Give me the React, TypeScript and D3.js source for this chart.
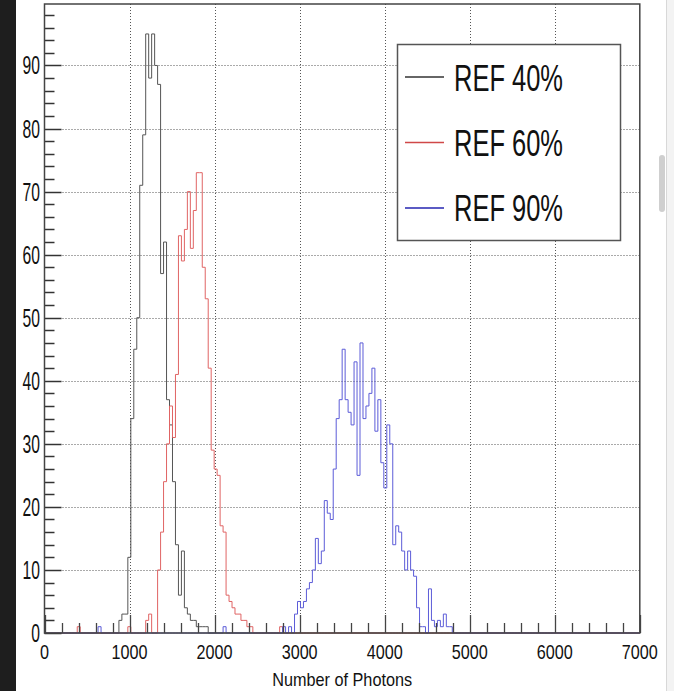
import * as React from 'react'
import * as d3 from 'd3'

// histogram binning: 200 bins over 0..7000 photons
const binCount = 200
const xMin = 0
const xMax = 7000
const yMax = 99.75

// counts, starting at the given bin index
const black40Start = 25
const black40 = [2, 3, 3, 12, 34, 45, 50, 71, 79, 95, 88, 95, 90, 87, 57, 62, 37, 33, 24, 14, 6, 13, 4, 3, 2, 2, 1, 1, 1, 1]
const black40Extra = []

const red60Start = 34
const red60 = [2, 3, 0, 0, 10, 16, 24, 30, 36, 31, 41, 63, 59, 64, 70, 61, 67, 73, 73, 58, 53, 42, 29, 26, 25, 17, 16, 6, 5, 4, 3, 3, 2, 2, 1, 1]
const red60Extra = [[11, 1], [28, 1], [79, 1]]

const blue90Start = 84
const blue90 = [3, 5, 4, 5, 7, 8, 10, 15, 11, 13, 21, 19, 18, 26, 34, 37, 45, 37, 35, 33, 43, 25, 46, 34, 36, 38, 42, 32, 37, 27, 23, 33, 30, 14, 17, 16, 13, 10, 13, 10, 9, 4, 1, 1, 0, 7, 2, 1, 2, 1, 3, 1, 1]
const blue90Extra = [[18, 1], [60, 1], [80, 1], [82, 1]]

const xTicks = [0, 1000, 2000, 3000, 4000, 5000, 6000, 7000]
const yTicks = [0, 10, 20, 30, 40, 50, 60, 70, 80, 90]
const legendLabels = ['REF 40%', 'REF 60%', 'REF 90%']

const series = [
  { start: black40Start, counts: black40, extra: black40Extra, color: '#555555', key: '#333333' },
  { start: red60Start, counts: red60, extra: red60Extra, color: '#e06464', key: '#d04848' },
  { start: blue90Start, counts: blue90, extra: blue90Extra, color: '#5c5cd8', key: '#2424b0' },
]

function fullCounts(start, counts, extra) {
  const out = new Array(binCount).fill(0)
  counts.forEach((c, i) => (out[start + i] = c))
  extra.forEach(([b, c]) => (out[b] = c))
  return out
}

export default function App() {
  const W = 674
  const H = 691
  const left = 44.5
  const right = 639.8
  const top = 4
  const bottom = 633

  const x = d3.scaleLinear().domain([xMin, xMax]).range([left, right])
  const y = d3.scaleLinear().domain([0, yMax]).range([bottom, top])
  const binW = (xMax - xMin) / binCount

  const line = d3.line()

  const paths = series.map((s) => {
    const c = fullCounts(s.start, s.counts, s.extra)
    const pts = [[x(xMin), y(0)]]
    c.forEach((v, i) => {
      pts.push([x(xMin + i * binW), y(v)])
      pts.push([x(xMin + (i + 1) * binW), y(v)])
    })
    pts.push([x(xMax), y(0)])
    return line(pts)
  })

  const px = (v) => Math.round(v) + 0.5

  const xMinor = d3.range(xMin, xMax + 1, 200).filter((v) => v % 1000 !== 0)
  const yMinor = d3.range(0, yMax, 2).filter((v) => v % 10 !== 0)

  const font = 'Liberation Sans, Arial, sans-serif'

  return (
    <div style={{ position: 'fixed', left: 0, top: 0, width: W, height: H, background: '#fff' }}>
      <svg width={W} height={H} style={{ display: 'block' }}>
        <rect x={0} y={0} width={16} height={H} fill="#1e1e1e" />
        <rect x={666} y={0} width={8} height={H} fill="#f3f3f3" />
        <line x1={666.5} y1={0} x2={666.5} y2={H} stroke="#d8d8d8" />
        <rect x={659} y={155} width={6} height={57} rx={3} fill="#cfcfcf" />

        {/* grid */}
        {xTicks.slice(1, -1).map((t) => (
          <line key={'gx' + t} x1={px(x(t))} x2={px(x(t))} y1={top} y2={bottom}
            stroke="#555" strokeDasharray="1,2" />
        ))}
        {yTicks.slice(1).map((t) => (
          <line key={'gy' + t} x1={left} x2={right} y1={px(y(t))} y2={px(y(t))}
            stroke="#555" strokeDasharray="1,2" />
        ))}

        {/* histograms */}
        {paths.map((d, i) => (
          <path key={'h' + i} d={d} fill="none" stroke={series[i].color} strokeWidth={1} />
        ))}

        {/* ticks */}
        {xTicks.map((t) => (
          <line key={'tx' + t} x1={px(x(t))} x2={px(x(t))} y1={bottom} y2={bottom - 18} stroke="#444" strokeWidth={1.3} />
        ))}
        {xMinor.map((t) => (
          <line key={'mx' + t} x1={px(x(t))} x2={px(x(t))} y1={bottom} y2={bottom - 10} stroke="#444" strokeWidth={1.3} />
        ))}
        {yTicks.map((t) => (
          <line key={'ty' + t} x1={left} x2={left + 17} y1={px(y(t))} y2={px(y(t))} stroke="#333" strokeWidth={1.5} />
        ))}
        {yMinor.map((t) => (
          <line key={'my' + t} x1={left} x2={left + 10} y1={px(y(t))} y2={px(y(t))} stroke="#333" strokeWidth={1.5} />
        ))}

        {/* frame */}
        <rect x={left} y={top} width={right - left} height={bottom - top} fill="none" stroke="#444" strokeWidth={1.5} />

        {/* tick labels */}
        {yTicks.map((t) => {
          const s = String(t)
          return (
            <text key={'ly' + t} x={40} y={y(t) + 9} textAnchor="end" fontFamily={font} fontSize={25}
              textLength={8.7 * s.length} lengthAdjust="spacingAndGlyphs" fill="#111">{s}</text>
          )
        })}
        {xTicks.map((t) => {
          const s = String(t)
          return (
            <text key={'lx' + t} x={x(t)} y={659} textAnchor="middle" fontFamily={font} fontSize={21}
              textLength={9 * s.length} lengthAdjust="spacingAndGlyphs" fill="#111">{s}</text>
          )
        })}
        <text x={(left + right) / 2} y={686} textAnchor="middle" fontFamily={font} fontSize={18.5}
          textLength={140} lengthAdjust="spacingAndGlyphs" fill="#111">Number of Photons</text>

        {/* legend */}
        <rect x={397.5} y={44.5} width={223} height={196} fill="#fff" stroke="#555" strokeWidth={1.5} />
        {legendLabels.map((l, i) => (
          <g key={'lg' + i}>
            <line x1={405} x2={444} y1={77 + i * 65.5} y2={77 + i * 65.5} stroke={series[i].key} strokeWidth={1.5} />
            <text x={454} y={91 + i * 65} fontFamily={font} fontSize={37} textLength={109}
              lengthAdjust="spacingAndGlyphs" fill="#111">{l}</text>
          </g>
        ))}
      </svg>
    </div>
  )
}
